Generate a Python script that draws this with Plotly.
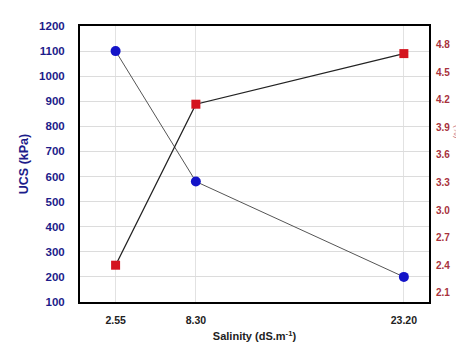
import plotly.graph_objects as go

salinity = [2.55, 8.30, 23.20]
salinity_labels = ["2.55", "8.30", "23.20"]
ucs = [1100, 580, 200]
strain = [2.4, 4.15, 4.7]
left_ticks = list(range(100, 1201, 100))
right_ticks = [2.1, 2.4, 2.7, 3.0, 3.3, 3.6, 3.9, 4.2, 4.5, 4.8]

fnt = "Liberation Sans, Arial, sans-serif"
navy = "#1c1c8a"
dred = "#a8323c"

fig = go.Figure()
fig.add_trace(go.Scatter(
    x=salinity, y=ucs, mode="lines+markers",
    line=dict(color="#555555", width=1),
    marker=dict(symbol="circle", size=10, color="#1414c8"),
    yaxis="y", showlegend=False))
fig.add_trace(go.Scatter(
    x=salinity, y=strain, mode="lines+markers",
    line=dict(color="#222222", width=1.3),
    marker=dict(symbol="square", size=9, color="#d4141e"),
    yaxis="y2", showlegend=False))

fig.update_layout(
    width=464, height=345,
    margin=dict(l=72, r=43, t=17, b=46),
    paper_bgcolor="white", plot_bgcolor="white",
    font=dict(family=fnt),
    xaxis=dict(
        range=[0, 25], tickvals=salinity, ticktext=salinity_labels,
        showgrid=True, gridcolor="#e2e2e2", gridwidth=1,
        showline=True, linecolor="black", linewidth=2, mirror=True,
        ticks="", ticklabelstandoff=7,
        tickfont=dict(size=10.5, color="#222222", family=fnt, weight="bold"),
        title=dict(text="Salinity (dS.m<sup>-1</sup>)", standoff=8,
                   font=dict(size=11, color="#222222", family=fnt, weight="bold")),
        zeroline=False),
    yaxis=dict(
        range=[100, 1200], tickvals=left_ticks,
        showgrid=True, gridcolor="#dcdcdc", gridwidth=1,
        showline=True, linecolor="black", linewidth=2, mirror=True,
        ticks="", ticklabelstandoff=11,
        tickfont=dict(size=11.5, color=navy, family=fnt, weight="bold"),
        title=dict(text="UCS (kPa)", standoff=8,
                   font=dict(size=12.5, color=navy, family=fnt, weight="bold")),
        zeroline=False),
    yaxis2=dict(
        range=[2.0, 5.0], tickvals=right_ticks,
        ticktext=[f"{v:.1f}" for v in right_ticks],
        overlaying="y", side="right", showgrid=False,
        ticks="", ticklabelstandoff=6,
        tickfont=dict(size=10, color=dred, family=fnt, weight="bold"),
        zeroline=False),
    annotations=[dict(
        text="(%)", x=1.08, xref="paper", xanchor="center",
        y=3.85, yref="y2", yanchor="middle",
        textangle=-90, showarrow=False,
        font=dict(size=9, color="#c8707a", family=fnt))],
)

fig.write_html("out.html")
